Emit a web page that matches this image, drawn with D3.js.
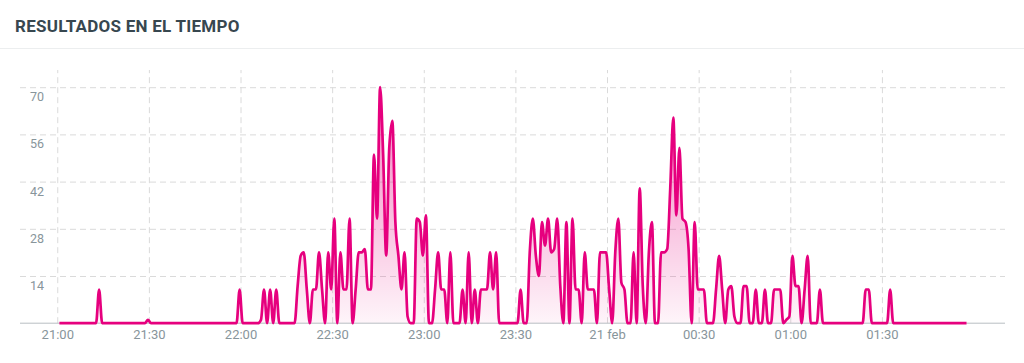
<!DOCTYPE html>
<html>
<head>
<meta charset="utf-8">
<script src="https://cdn.jsdelivr.net/npm/d3@7"></script>
<style>
  body { margin: 0; background: #fff; font-family: Roboto, "Noto Sans", sans-serif; }
  .grid line { stroke: #dadada; stroke-dasharray: 6,4; }
  .grid path { display: none; }
  .tick text { fill: #88959b; }
</style>
</head>
<body>
<svg id="chart" width="1024" height="363"></svg>
<script>
const title = "RESULTADOS EN EL TIEMPO";
// one value per minute, first point at 21:00 (20 feb)
const startTime = new Date(2024, 1, 20, 21, 0, 42);
const values = [
  0,0,0,0,0,0,0,0,0,0,  0,0,0,10,0,0,0,0,0,0,  0,0,0,0,0,0,0,0,0,1,
  0,0,0,0,0,0,0,0,0,0,  0,0,0,0,0,0,0,0,0,0,  0,0,0,0,0,0,0,0,0,10,
  0,0,0,0,0,0,1,10,0,10,  0,10,0,0,0,0,0,0,11,20,  21,10,0,10,10,21,10,0,21,10,
  31,0,21,10,10,31,0,10,21,21,  22,10,10,50,31,70,50,20,52,60,  30,20,10,21,2,0,0,31,30,20,
  32,0,0,10,21,10,10,0,21,0,  0,0,10,0,21,0,10,0,10,10,  10,21,10,21,0,0,0,0,0,0,
  0,10,0,0,21,31,20,14,30,23,  31,21,22,31,11,0,30,0,31,10,  10,0,21,10,10,10,0,21,21,21,
  10,0,21,31,12,10,0,0,21,0,  40,11,0,21,30,0,0,21,21,22,  40,61,32,52,31,30,22,0,30,10,
  10,10,0,0,0,10,20,10,0,10,  11,2,0,0,11,11,0,0,10,0,  0,10,0,0,10,10,10,0,1,2,
  20,11,11,0,10,20,0,0,0,10,  0,0,0,0,0,0,0,0,0,0,  0,0,0,0,10,10,0,0,0,0,
  0,0,10,0,0,0,0,0,0,0,  0,0,0,0,0,0,0,0,0,0,  0,0,0,0,0,0,0,0
];
const yTicks = [14, 28, 42, 56, 70];
const shortMonths = ["ene","feb","mar","abr","may","jun","jul","ago","sep","oct","nov","dic"];

const data = values.map((v, i) => ({ t: d3.timeMinute.offset(startTime, i), v }));

const svg = d3.select("#chart");
const plotLeft = 20, plotRight = 1005, plotTop = 70, plotBottom = 323.2;

// title + separator
svg.append("text")
  .attr("x", 15).attr("y", 32)
  .attr("font-size", 17).attr("font-weight", 700)
  .attr("letter-spacing", 0.25)
  .attr("fill", "#37474f")
  .text(title);
svg.append("line")
  .attr("x1", 0).attr("x2", 1024).attr("y1", 48.5).attr("y2", 48.5)
  .attr("stroke", "#eceeef");

const t0 = new Date(2024, 1, 20, 21, 0, 0);
const x = d3.scaleTime()
  .domain([d3.timeSecond.offset(t0, -732), d3.timeSecond.offset(t0, 18618)])
  .range([plotLeft, plotRight]);
const y = d3.scaleLinear().domain([0, 75.1]).range([plotBottom, plotTop]);

// half-hour ticks only within the data range
const lastTime = data[data.length - 1].t;
const halfHours = x.ticks(d3.timeMinute.every(30)).filter(d => d <= lastTime);
const fmt = d => (d.getHours() === 0 && d.getMinutes() === 0)
  ? d.getDate() + " " + shortMonths[d.getMonth()]
  : d3.timeFormat("%H:%M")(d);

// grids
svg.append("g").attr("class", "grid")
  .attr("transform", `translate(${plotLeft},0)`)
  .call(d3.axisLeft(y).tickValues(yTicks).tickSize(-(plotRight - plotLeft)).tickFormat(""));
svg.append("g").attr("class", "grid")
  .attr("transform", `translate(0,${plotBottom})`)
  .call(d3.axisBottom(x).tickValues(halfHours).tickSize(-(plotBottom - plotTop)).tickFormat(""));

// gradient
const grad = svg.append("defs").append("linearGradient")
  .attr("id", "fillGrad").attr("gradientUnits", "userSpaceOnUse")
  .attr("x1", 0).attr("x2", 0).attr("y1", y(70)).attr("y2", y(0));
grad.append("stop").attr("offset", 0).attr("stop-color", "#e6007e").attr("stop-opacity", 0.5);
grad.append("stop").attr("offset", 1).attr("stop-color", "#e6007e").attr("stop-opacity", 0.04);

const area = d3.area().x(d => x(d.t)).y0(y(0)).y1(d => y(d.v)).curve(d3.curveMonotoneX);
const line = d3.line().x(d => x(d.t)).y(d => y(d.v)).curve(d3.curveMonotoneX);

svg.append("path").datum(data).attr("d", area).attr("fill", "url(#fillGrad)");

// axis base line
svg.append("line")
  .attr("x1", plotLeft).attr("x2", plotRight).attr("y1", plotBottom).attr("y2", plotBottom)
  .attr("stroke", "#b8bec2");

svg.append("path").datum(data).attr("d", line)
  .attr("fill", "none").attr("stroke", "#e6007e")
  .attr("stroke-width", 2.7).attr("stroke-linejoin", "round");

// axis labels
const yAxis = svg.append("g")
  .attr("transform", "translate(44,0)")
  .call(d3.axisLeft(y).tickValues(yTicks).tickSize(0).tickPadding(0));
yAxis.select(".domain").remove();
yAxis.selectAll("text").attr("dy", 13.5).attr("font-size", 12.5).attr("font-family", "Roboto");

const xAxis = svg.append("g")
  .attr("transform", `translate(0,${plotBottom})`)
  .call(d3.axisBottom(x).tickValues(halfHours).tickSize(0).tickPadding(7).tickFormat(fmt));
xAxis.select(".domain").remove();
xAxis.selectAll("text").attr("font-size", 13).attr("font-family", "Roboto");
</script>
</body>
</html>
